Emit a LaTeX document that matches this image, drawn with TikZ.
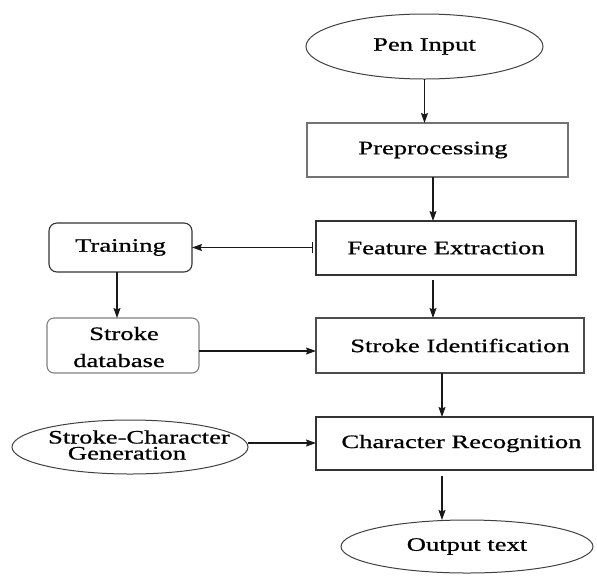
\documentclass[tikz,border=0pt]{standalone}
\usepackage{fontspec}
\setmainfont{Liberation Serif}[FakeBold=0.7]
\usetikzlibrary{shapes.geometric,arrows.meta}
% labels are set wide: horizontally stretched Times-like type
\newcommand\widetext[1]{\scalebox{1.4}[1]{#1}}
\begin{document}
\begin{tikzpicture}[x=1pt,y=-1pt,
  every node/.style={font=\rmfamily\fontsize{19}{22}\selectfont, inner sep=0pt, outer sep=0pt},
  procbox/.style={draw=black!80, line width=1.1pt, rectangle},
  softbox/.style={draw=black!80, line width=1.1pt, rectangle, rounded corners=8pt},
  oval/.style={draw=black!75, line width=1pt, ellipse},
  >={Stealth[length=10pt,width=7pt,inset=1.5pt]},
  arr/.style={->, line width=1.2pt, draw=black!90, fill=black!90}]
\useasboundingbox (0,0) rectangle (597,582);

% main pipeline
\node[oval, minimum width=237pt, minimum height=65pt] (pen) at (424.5,46.5) {\widetext{Pen Input}};
\node[procbox, draw=black!55, minimum width=261pt, minimum height=54pt] (pre) at (437.5,150) {\widetext{Preprocessing}\hspace*{9pt}};
\node[procbox, minimum width=260pt, minimum height=54pt] (feat) at (446,248) {\widetext{Feature Extraction}};
\node[procbox, draw=black!70, minimum width=268pt, minimum height=55pt] (sid) at (450,345.5) {\hspace*{20pt}\widetext{Stroke Identification}};
\node[procbox, minimum width=277pt, minimum height=53pt] (cr) at (454.5,443.5) {\hspace*{14pt}\widetext{Character Recognition}};
\node[oval, minimum width=252pt, minimum height=53pt] (out) at (467,546.5) {\widetext{Output text}};

% side branch
\node[softbox, minimum width=143pt, minimum height=49pt] (train) at (120.5,247.5) {\widetext{Training}};
\node[softbox, draw=black!50, rounded corners=7pt, minimum width=152pt, minimum height=55pt] (db) at (123,345.5) {};
\node[anchor=base] (dbA) at (124,340) {\widetext{Stroke}};
\node[anchor=base] (dbB) at (119,367) {\widetext{database}};
\node[oval, minimum width=236pt, minimum height=54pt] (gen) at (130,447) {};
\node[anchor=base] (genA) at (139,443.5) {\widetext{Stroke-Character}};
\node[anchor=base] (genB) at (127,459.5) {\widetext{Generation}};

% connectors
\draw[arr] (pen.south) -- (pen.south |- pre.north);
\coordinate (p1) at ([xshift=-4.5pt]pre.south);
\draw[arr] (p1) -- (p1 |- feat.north);
\coordinate (p2) at ([xshift=-13pt,yshift=-5pt]feat.south);
\draw[arr] (p2) -- (p2 |- sid.north);
\coordinate (p3) at ([xshift=-8pt]sid.south);
\draw[arr] (p3) -- (p3 |- cr.north);
\coordinate (p4) at ([xshift=-12.5pt,yshift=-6pt]cr.south);
\draw[arr] (p4) -- (p4 |- out.north);

\draw[arr, {Bar[width=11pt]}->, shorten <=3pt] (train.east -| feat.west) -- (train.east);
\coordinate (p5) at ([xshift=-3.5pt]train.south);
\draw[arr] (p5) -- (p5 |- db.north);
\coordinate (p6) at ([yshift=-5.5pt]db.east);
\draw[arr] (p6) -- (p6 -| sid.west);
\coordinate (p7) at ([yshift=4pt]gen.east);
\draw[arr] (p7) -- (p7 -| cr.west);
\end{tikzpicture}
\end{document}
